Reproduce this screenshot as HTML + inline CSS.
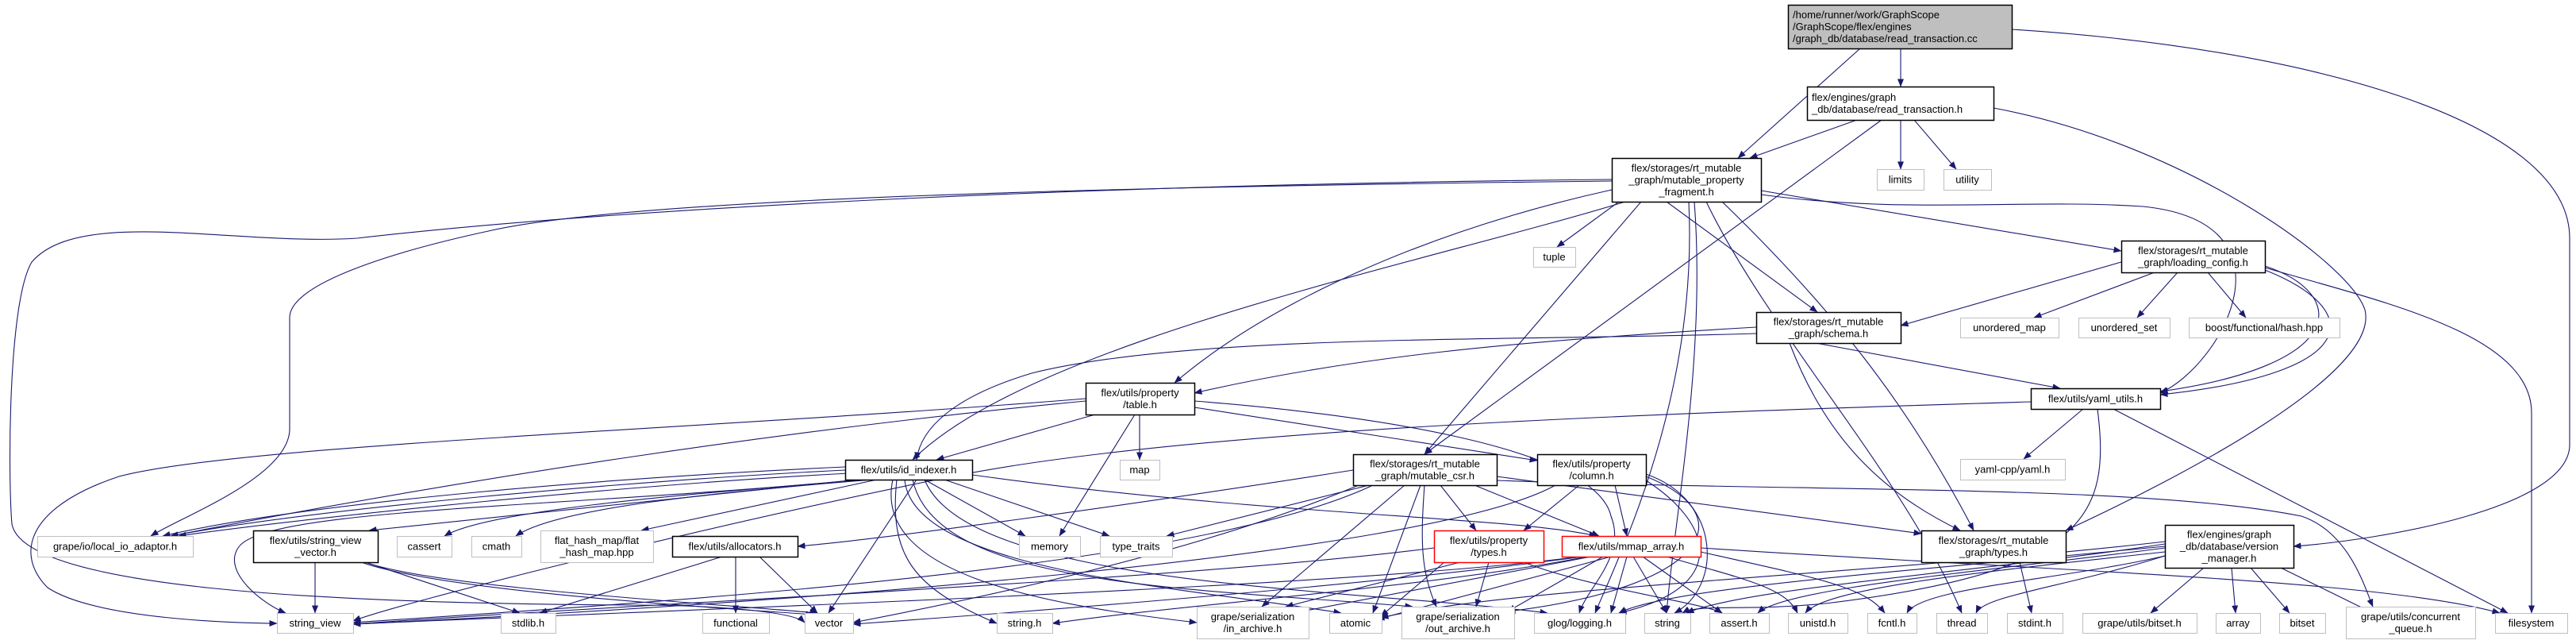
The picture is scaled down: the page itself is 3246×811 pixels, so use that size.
<!DOCTYPE html>
<html><head><meta charset="utf-8"><style>
html,body{margin:0;padding:0;background:#fff;}
svg{display:block;}
text{font-family:"Liberation Sans",sans-serif;font-size:13px;fill:#000;}
</style></head><body>
<svg id="g" width="3246" height="811" xmlns="http://www.w3.org/2000/svg">
<defs><marker id="a" markerWidth="10" markerHeight="8" refX="9.5" refY="4" orient="auto" markerUnits="userSpaceOnUse"><path d="M0,0 L10,4 L0,8 z" fill="#191970"/></marker></defs>
<g id="e" fill="none" stroke="#191970" stroke-width="1.1"></g>
<g id="n"></g>
</svg>
<script>
var N=[
[2253,6,282,55,'f',['/home/runner/work/GraphScope','/GraphScope/flex/engines','/graph_db/database/read_transaction.cc'],1],
[2277,109,235,42,'b',['flex/engines/graph','_db/database/read_transaction.h'],1],
[2365,213,59,26,'g',['limits']],[2449,213,60,26,'g',['utility']],
[2031,199,188,55,'b',['flex/storages/rt_mutable','_graph/mutable_property','_fragment.h']],
[1932,311,53,25,'g',['tuple']],
[2673,303,181,40,'b',['flex/storages/rt_mutable','_graph/loading_config.h']],
[2213,393,182,39,'b',['flex/storages/rt_mutable','_graph/schema.h']],
[2470,400,124,25,'g',['unordered_map']],[2619,400,115,25,'g',['unordered_set']],[2758,400,190,25,'g',['boost/functional/hash.hpp']],
[1368,482,137,40,'b',['flex/utils/property','/table.h']],
[2559,489,163,26,'b',['flex/utils/yaml_utils.h']],
[1411,579,50,25,'g',['map']],
[1065,579,160,25,'b',['flex/utils/id_indexer.h']],
[1705,572,181,39,'b',['flex/storages/rt_mutable','_graph/mutable_csr.h']],
[1937,572,137,39,'b',['flex/utils/property','/column.h']],
[2470,578,132,26,'g',['yaml-cpp/yaml.h']],
[47,675,196,26,'g',['grape/io/local_io_adaptor.h']],
[319,668,157,40,'b',['flex/utils/string_view','_vector.h']],
[500,675,69,26,'g',['cassert']],[594,675,63,26,'g',['cmath']],
[681,668,142,40,'g',['flat_hash_map/flat','_hash_map.hpp']],
[847,675,158,26,'b',['flex/utils/allocators.h']],
[1284,675,77,26,'g',['memory']],[1386,675,91,26,'g',['type_traits']],
[1807,668,138,40,'r',['flex/utils/property','/types.h']],
[1968,675,175,26,'r',['flex/utils/mmap_array.h']],
[2421,668,182,40,'b',['flex/storages/rt_mutable','_graph/types.h']],
[2728,661,162,54,'b',['flex/engines/graph','_db/database/version','_manager.h']],
[349,772,96,25,'g',['string_view']],[631,772,69,25,'g',['stdlib.h']],[885,772,84,25,'g',['functional']],
[1014,772,61,25,'g',['vector']],[1256,772,70,25,'g',['string.h']],
[1508,764,141,40,'g',['grape/serialization','/in_archive.h']],[1675,772,66,25,'g',['atomic']],
[1766,764,142,40,'g',['grape/serialization','/out_archive.h']],[1933,772,115,25,'g',['glog/logging.h']],
[2072,772,58,25,'g',['string']],[2154,772,75,25,'g',['assert.h']],[2253,772,75,25,'g',['unistd.h']],
[2353,772,62,25,'g',['fcntl.h']],[2440,772,64,25,'g',['thread']],[2529,772,70,25,'g',['stdint.h']],
[2624,772,144,25,'g',['grape/utils/bitset.h']],[2792,772,56,25,'g',['array']],[2872,772,58,25,'g',['bitset']],
[2956,764,163,40,'g',['grape/utils/concurrent','_queue.h']],[3144,772,91,25,'g',['filesystem']]
];
var E=[
'M2395,61L2395,109','M2344,61L2190,199',
'M2535,37C2900,60 3238,150 3238,300L3238,560C3238,640 3000,680 2890,688',
'M2340,151L2205,199','M2395,151L2395,213','M2412,151L2465,213','M2371,151L1795,572',
'M2512,136C2750,180 2960,330 2980,390C3000,470 2750,600 2603,668',
'M2040,254L1962,311','M2031,239C1800,290 1600,380 1480,482','M2048,254C1800,330 1300,430 1150,579',
'M2068,254L1795,572','M2100,254L2290,393','M2219,240L2673,316',
'M2219,245C2400,270 2550,250 2700,260C2900,280 2800,460 2722,495',
'M2170,254C2300,380 2400,500 2487,668','M2150,254C2230,420 2400,600 2472,772',
'M2135,254C2150,450 2110,650 2100,772','M2128,254C2140,500 2040,700 2010,772',
'M2031,228C1400,235 800,250 620,290C480,320 365,360 365,400L365,540C365,600 230,650 190,675',
'M2031,226C1400,232 800,260 450,300C300,310 100,260 40,330C10,380 10,600 15,660C30,740 400,760 800,762C900,762 1000,770 1014,784',
'M1368,502C900,540 300,560 150,600C30,640 20,700 60,740C120,780 300,785 349,785',
'M2673,330L2395,410','M2715,343L2563,400','M2744,343L2693,400','M2782,343L2830,400',
'M2854,335C2960,370 2960,460 2722,493','M2854,340C2980,390 2980,470 2722,497',
'M2854,337C3000,380 3190,420 3190,520L3190,772',
'M2213,412C1900,430 1700,450 1505,495','M2213,420C1900,430 1500,420 1300,470C1200,500 1160,540 1155,579',
'M2288,432L2596,489','M2255,432C2300,550 2370,620 2470,668',
'M1380,522L1180,579','M1436,522L1436,579','M1430,522L1335,675','M1368,505C1000,540 600,600 215,675',
'M1505,513L1937,580','M1505,505C1700,520 2010,560 2030,650C2050,700 2000,740 1990,772',
'M2625,515L2550,578','M2663,515L3160,772','M2643,515C2660,650 2630,720 2300,760C2200,770 2140,760 2120,772',
'M2559,506C2100,520 1500,540 1200,600C900,660 500,760 445,782',
'M1065,588C800,600 400,630 205,675','M1065,592C800,605 400,640 215,675','M1070,596C800,610 400,650 225,675',
'M1080,604L465,668','M1090,604C900,620 620,640 560,675','M1100,604C900,620 700,640 650,675','M1105,604L808,668',
'M1165,604L1292,675','M1190,604L1398,675','M1225,598C1600,650 1900,650 2012,675','M1155,604L1044,772',
'M1085,604C700,640 330,640 300,690C280,720 330,760 360,772','M1130,604C1120,700 1150,740 1256,785',
'M1140,604C1150,720 1500,740 1690,772','M1125,604C1100,720 1300,760 1508,784',
'M1165,604C1220,740 1700,740 1950,772','M1150,604C1180,740 1500,740 1780,764',
'M1705,592C1400,640 1100,680 1005,688','M1725,611L1470,675','M1815,611L1860,668','M1858,611L2015,675',
'M1770,611L1590,764','M1790,611L1730,772','M1795,611C1790,680 1790,720 1810,764',
'M1730,611C1500,720 800,760 445,784','M1886,600L2421,672',
'M1886,605C2300,620 2700,610 2900,650C2960,670 2980,740 2990,764','M1712,611C1500,700 1200,760 1075,784',
'M1990,611L1920,668','M2035,611L2050,675','M1960,611C1800,700 1000,760 445,786',
'M2074,597C2170,630 2170,740 2110,772','M2074,605C2160,660 2180,740 2040,772','M2074,600C2200,650 2150,740 1900,770',
'M1840,708L1620,764','M1876,708L1860,764','M1807,690C1500,730 800,760 445,786',
'M1920,708C2000,740 2150,760 2170,772','M1820,708L1740,776',
'M1990,701C1700,740 800,770 445,786','M1995,701C1700,740 1300,770 1075,786','M2030,701L1735,780',
'M2005,701L1640,770','M2020,701L1900,770','M2050,701L2030,772','M2058,701L2100,772','M2070,701L2170,772',
'M2000,701C1800,740 1500,760 1326,785','M2143,695C2300,730 2350,740 2375,772',
'M2100,701C2200,730 2250,740 2265,772','M2143,690C2600,720 3000,730 3150,772',
'M910,701L680,772','M927,701L927,772','M957,701L1030,772',
'M397,708L397,772','M460,708L655,772','M460,708C550,740 900,760 1030,772','M455,708C560,745 900,765 1025,774',
'M2545,708L2560,772',
'M2777,715L2710,772','M2812,715L2817,772','M2836,715L2885,772','M2874,715L2990,772',
'M2728,700C2600,740 2500,750 2490,772','M2728,700C2600,730 2420,740 2403,772',
'M2728,695C2500,720 2300,740 2275,772','M2728,690C2500,720 2250,740 2215,772',
'M2728,685C2500,720 2200,740 2125,772','M2728,682C2400,720 1900,740 1740,778',
'M2728,688C2400,720 2100,740 2040,772'
];
var ns='http://www.w3.org/2000/svg',eg=document.getElementById('e'),ng=document.getElementById('n');
E.forEach(function(d){var p=document.createElementNS(ns,'path');p.setAttribute('d',d);p.setAttribute('marker-end','url(#a)');eg.appendChild(p);});
N.forEach(function(n){var r=document.createElementNS(ns,'rect');r.setAttribute('x',n[0]+.5);r.setAttribute('y',n[1]+.5);r.setAttribute('width',n[2]);r.setAttribute('height',n[3]);
var s=n[4];r.setAttribute('fill',s=='f'?'#bfbfbf':'#fff');r.setAttribute('stroke',s=='g'?'#bfbfbf':(s=='r'?'#ff0000':'#000'));r.setAttribute('stroke-width',s=='g'?1:1.5);ng.appendChild(r);
var L=n[5],top=n[1]+(n[3]-L.length*15)/2+12;
L.forEach(function(t,i){var x=document.createElementNS(ns,'text');
if(n[6]){x.setAttribute('x',n[0]+6);}else{x.setAttribute('x',n[0]+n[2]/2);x.setAttribute('text-anchor','middle');}
x.setAttribute('y',top+i*15);x.textContent=t;ng.appendChild(x);});});
</script>
</body></html>
